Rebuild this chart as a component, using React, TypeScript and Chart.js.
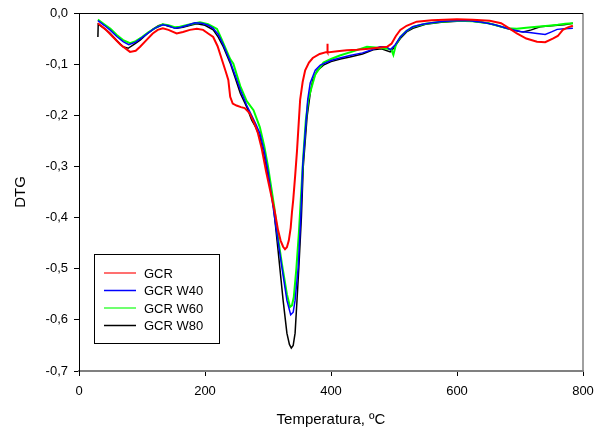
import React, { useEffect, useRef } from "react";
import { Chart, registerables } from "chart.js";

Chart.register(...registerables);

const seriesNames = ["GCR", "GCR W40", "GCR W60", "GCR W80"];
const seriesColors = ["#ff0000", "#0000ff", "#00ff00", "#000000"];
const legendColors = ["#ff7070", "#0000ff", "#70ff70", "#000000"];

const gcrT = [30, 42, 54, 66, 81, 90, 97, 107, 117, 125, 133, 142, 155, 165, 176, 187, 197, 205, 213, 220, 227, 233, 237, 240, 244, 250, 257, 263, 271, 278, 284, 290, 297, 304, 311, 316, 320, 324, 327, 330, 333, 336, 338, 340, 343, 346, 349, 351, 355, 359, 365, 371, 382, 394, 394, 395, 410, 425, 441, 460, 475, 489, 496, 503, 510, 520, 536, 560, 580, 600, 625, 652, 670, 683, 695, 710, 727, 740, 752, 760, 768, 776, 784];
const gcrV = [-0.02, -0.032, -0.047, -0.062, -0.076, -0.074, -0.066, -0.053, -0.04, -0.033, -0.03, -0.033, -0.04, -0.037, -0.033, -0.031, -0.033, -0.04, -0.047, -0.065, -0.092, -0.115, -0.131, -0.164, -0.177, -0.181, -0.184, -0.186, -0.196, -0.215, -0.235, -0.265, -0.31, -0.35, -0.39, -0.425, -0.445, -0.457, -0.462, -0.458, -0.445, -0.42, -0.39, -0.366, -0.32, -0.27, -0.21, -0.17, -0.135, -0.112, -0.097, -0.088, -0.08, -0.076, -0.06, -0.077, -0.075, -0.073, -0.072, -0.07, -0.068, -0.066, -0.06, -0.045, -0.033, -0.025, -0.017, -0.014, -0.013, -0.012, -0.013, -0.015, -0.02, -0.03, -0.04, -0.05, -0.056, -0.057, -0.05, -0.045, -0.033, -0.028, -0.025];

const w40T = [30, 40, 50, 60, 70, 79, 90, 100, 110, 120, 133, 142, 152, 162, 172, 184, 195, 205, 213, 221, 229, 240, 248, 256, 266, 274, 281, 287, 294, 300, 307, 314, 322, 330, 336, 340, 343, 348, 352, 355, 359, 363, 367, 375, 383, 400, 414, 430, 450, 465, 478, 488, 494, 502, 510, 520, 530, 545, 560, 580, 600, 620, 640, 660, 679, 700, 715, 727, 740, 750, 759, 770, 784];
const w40V = [-0.015, -0.024, -0.034, -0.046, -0.056, -0.062, -0.057, -0.048, -0.039, -0.03, -0.023, -0.025, -0.03, -0.028, -0.024, -0.019, -0.02, -0.024, -0.03, -0.042, -0.062, -0.095, -0.122, -0.15, -0.18, -0.2, -0.218, -0.235, -0.27, -0.31, -0.37, -0.43, -0.497, -0.562, -0.59, -0.585, -0.562, -0.497, -0.4, -0.3, -0.235, -0.17, -0.137, -0.112, -0.102, -0.093, -0.088, -0.083, -0.078, -0.072, -0.066, -0.066, -0.072, -0.062, -0.047, -0.035, -0.027, -0.022, -0.019, -0.016, -0.015, -0.015, -0.018, -0.023, -0.03, -0.036, -0.038, -0.04, -0.042, -0.037, -0.032, -0.031, -0.03];

const w60T = [30, 40, 50, 60, 70, 81, 90, 100, 110, 120, 133, 142, 152, 160, 170, 180, 192, 205, 213, 219, 226, 233, 240, 245, 256, 266, 277, 287, 294, 300, 305, 310, 316, 322, 330, 335, 338, 341, 345, 349, 352, 356, 360, 364, 367, 375, 388, 400, 414, 435, 457, 475, 490, 496, 499, 503, 510, 520, 530, 550, 575, 600, 625, 650, 665, 679, 695, 710, 727, 745, 760, 772, 784];
const w60V = [-0.013, -0.022, -0.031, -0.043, -0.053, -0.059, -0.055, -0.047, -0.038, -0.03, -0.022, -0.024, -0.028, -0.027, -0.024, -0.021, -0.018, -0.022, -0.027, -0.031, -0.05, -0.07, -0.09, -0.099, -0.143, -0.172, -0.19, -0.223, -0.26, -0.3, -0.34, -0.38, -0.44, -0.49, -0.55, -0.575, -0.572, -0.555, -0.5, -0.43, -0.366, -0.28, -0.21, -0.17, -0.155, -0.12, -0.097, -0.09, -0.083, -0.075, -0.066, -0.068, -0.07, -0.072, -0.082, -0.062, -0.047, -0.035, -0.027, -0.021, -0.017, -0.015, -0.016, -0.02, -0.025, -0.03, -0.031, -0.029, -0.027, -0.025, -0.023, -0.021, -0.02];

const w80T = [30, 30.5, 40, 49, 60, 70, 78, 88, 97, 107, 117, 126, 133, 142, 155, 165, 177, 187, 200, 213, 221, 229, 240, 248, 256, 266, 274, 280, 287, 297, 308, 316, 324, 330, 334, 337, 340, 343, 346, 349, 353, 356, 362, 367, 371, 378, 388, 400, 415, 430, 450, 467, 480, 494, 500, 510, 520, 530, 550, 575, 600, 625, 650, 670, 690, 705, 718, 732, 750, 770, 784];
const w80V = [-0.047, -0.022, -0.03, -0.039, -0.054, -0.066, -0.069, -0.061, -0.053, -0.042, -0.032, -0.025, -0.022, -0.026, -0.03, -0.028, -0.024, -0.021, -0.024, -0.033, -0.047, -0.066, -0.098, -0.127, -0.157, -0.183, -0.209, -0.222, -0.242, -0.3, -0.37, -0.464, -0.562, -0.626, -0.648, -0.655, -0.65, -0.626, -0.562, -0.497, -0.4, -0.3, -0.203, -0.157, -0.131, -0.113, -0.102, -0.095, -0.09, -0.086, -0.08, -0.072, -0.07, -0.076, -0.068, -0.05, -0.037, -0.03, -0.022, -0.018, -0.016, -0.016, -0.02, -0.027, -0.034, -0.037, -0.033, -0.027, -0.025, -0.023, -0.02];

const xTicks = [0, 200, 400, 600, 800];
const yTicks = [0, -0.1, -0.2, -0.3, -0.4, -0.5, -0.6, -0.7];

const allT = [gcrT, w40T, w60T, w80T];
const allV = [gcrV, w40V, w60V, w80V];
const lineWidths = [2, 1.5, 2, 1.5];

const FONT = "Arial, 'Liberation Sans', sans-serif";

const framePlugin = {
  id: "frame",
  afterDraw(chart: any) {
    const { ctx, chartArea: a } = chart;
    ctx.save();
    ctx.lineWidth = 1.5;
    ctx.strokeStyle = "#808080";
    ctx.beginPath();
    ctx.moveTo(a.right, a.top);
    ctx.lineTo(a.right, a.bottom);
    ctx.stroke();
    ctx.lineWidth = 1;
    ctx.strokeStyle = "#000";
    ctx.beginPath();
    ctx.moveTo(a.left, a.top + 0.5);
    ctx.lineTo(a.right, a.top + 0.5);
    ctx.stroke();
    // legend box
    const bx = a.left + 15;
    const by = a.top + 241;
    const bw = 125;
    const bh = 89;
    ctx.fillStyle = "#fff";
    ctx.fillRect(bx, by, bw, bh);
    ctx.strokeStyle = "#000";
    ctx.lineWidth = 1;
    ctx.strokeRect(bx + 0.5, by + 0.5, bw, bh);
    ctx.font = "13px " + FONT;
    ctx.textBaseline = "middle";
    ctx.textAlign = "left";
    seriesNames.forEach((n, i) => {
      const y = by + 19 + i * 17.5;
      ctx.strokeStyle = legendColors[i];
      ctx.lineWidth = i === 0 || i === 2 ? 2 : 1.5;
      ctx.beginPath();
      ctx.moveTo(bx + 10, y);
      ctx.lineTo(bx + 42, y);
      ctx.stroke();
      ctx.fillStyle = "#000";
      ctx.fillText(n, bx + 50, y + 1);
    });
    ctx.restore();
  },
};

export default function App() {
  const ref = useRef<HTMLCanvasElement>(null);
  useEffect(() => {
    const datasets = seriesNames.map((name, i) => ({
      label: name,
      data: allT[i].map((t, j) => ({ x: t, y: allV[i][j] })),
      borderColor: seriesColors[i],
      backgroundColor: seriesColors[i],
      borderWidth: lineWidths[i],
      pointRadius: 0,
      showLine: true,
      tension: 0,
      fill: false,
    }));
    const chart = new Chart(ref.current!, {
      type: "scatter",
      data: { datasets },
      plugins: [framePlugin],
      options: {
        animation: false,
        responsive: false,
        maintainAspectRatio: false,
        layout: { padding: { top: 13, right: 0, left: 0, bottom: 0 } },
        plugins: { legend: { display: false }, tooltip: { enabled: false } },
        scales: {
          x: {
            type: "linear",
            min: 0,
            max: 800,
            afterBuildTicks: (s: any) => {
              s.ticks = xTicks.map((v) => ({ value: v }));
            },
            afterFit: (s: any) => {
              s.height = 61;
              s.paddingLeft = 0;
              s.paddingRight = 11;
            },
            ticks: {
              color: "#000",
              font: { size: 13, family: FONT },
              padding: 8,
              maxRotation: 0,
              callback: (v: any) => String(v),
            },
            grid: {
              drawOnChartArea: false,
              drawTicks: true,
              tickLength: 5,
              tickColor: "#000",
            },
            border: { display: true, color: "#808080", width: 2 },
            title: {
              display: true,
              text: "Temperatura, ºC",
              color: "#000",
              font: { size: 15, family: FONT },
              padding: { top: 0, bottom: 3 },
            },
          },
          y: {
            type: "linear",
            min: -0.7,
            max: 0,
            afterBuildTicks: (s: any) => {
              s.ticks = yTicks.map((v) => ({ value: v }));
            },
            afterFit: (s: any) => {
              s.width = 79;
              s.paddingTop = 0;
              s.paddingBottom = 0;
            },
            ticks: {
              color: "#000",
              font: { size: 13, family: FONT },
              padding: 6,
              callback: (v: any) => {
                const n = Number(v);
                const s = Math.abs(n) < 1e-9 ? "0.0" : n.toFixed(1);
                return s.replace(".", ",");
              },
            },
            grid: {
              drawOnChartArea: false,
              drawTicks: true,
              tickLength: 5,
              tickColor: "#000",
            },
            border: { display: true, color: "#000", width: 1 },
            title: {
              display: true,
              text: "DTG",
              color: "#000",
              font: { size: 15, family: FONT },
              padding: { top: 12, bottom: 0 },
            },
          },
        },
      },
    });
    return () => chart.destroy();
  }, []);
  return (
    <div style={{ position: "fixed", left: 0, top: 0, width: 594, height: 432, background: "#fff" }}>
      <canvas ref={ref} width={594} height={432} style={{ width: 594, height: 432 }} />
    </div>
  );
}
